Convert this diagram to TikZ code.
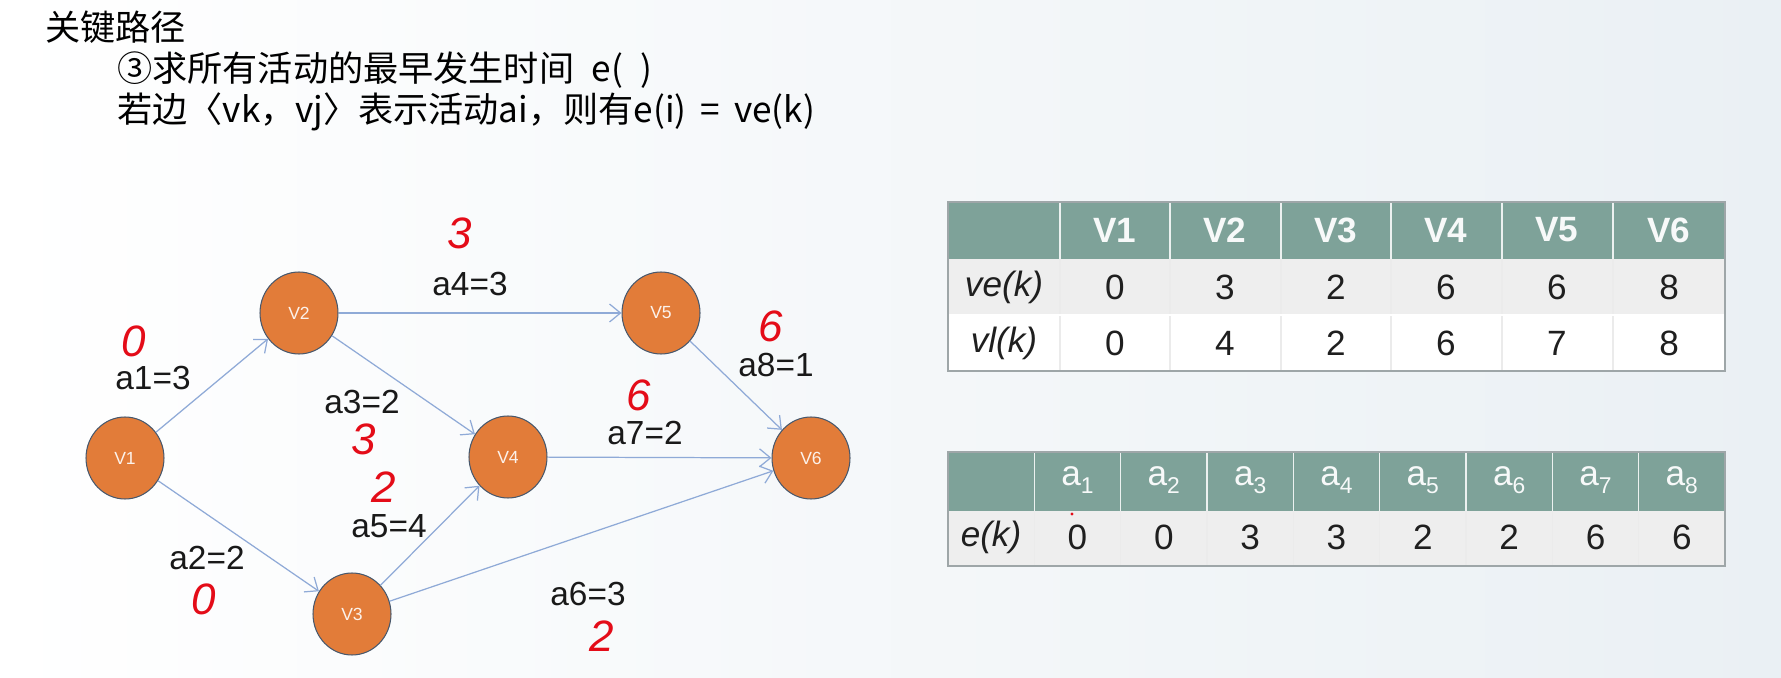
\documentclass[tikz,border=0pt]{standalone}
\usepackage{fontspec}
\setmainfont{Liberation Sans}
\newfontfamily\cjk{Noto Sans CJK SC}
\usetikzlibrary{shapes.geometric, arrows.meta, positioning}
\definecolor{NodeOrange}{RGB}{226,124,57}
\definecolor{NodeRim}{RGB}{72,88,108}
\definecolor{EdgeBlue}{RGB}{143,170,215}
\definecolor{InkRed}{RGB}{228,12,24}
\definecolor{HeadTeal}{RGB}{126,162,153}
\definecolor{RowGrey}{RGB}{238,238,238}
\definecolor{RimGrey}{RGB}{158,166,168}
\definecolor{PaneBlue}{RGB}{234,240,244}
\tikzset{
  vert/.style={ellipse, draw=NodeRim, line width=0.6pt, fill=NodeOrange, minimum width=1.56cm, minimum height=1.64cm, inner sep=0pt, text=white!90!NodeOrange, font=\fontsize{10}{10}\selectfont},
  act/.style={-{Straight Barb[length=2.2mm,width=3.6mm]}, EdgeBlue, line width=0.7pt},
  wlab/.style={font=\fontsize{19}{19}\selectfont, inner sep=0pt, text=black!90},
  ink/.style={InkRed, font=\fontsize{25}{25}\selectfont\itshape, inner sep=0pt},
  hline/.style={anchor=west, inner sep=0pt, font=\cjk\fontsize{20}{20}\selectfont},
  cell/.style={font=\fontsize{20}{20}\selectfont, inner sep=0pt, text=black!88},
  hcell/.style={font=\fontsize{20}{20}\selectfont\bfseries, inner sep=0pt, text=white!94!HeadTeal},
  acell/.style={font=\fontsize{20}{20}\selectfont, inner sep=0pt, text=white!94!HeadTeal},
}
\newcommand{\actsub}[1]{a\raisebox{-0.45ex}{\fontsize{13}{13}\selectfont #1}}

\begin{document}
\begin{tikzpicture}[x=0.02cm, y=-0.02cm]
\shade[left color=white, right color=PaneBlue] (0,0) rectangle (1781,678);
\useasboundingbox (0,0) rectangle (1781,678);

% heading lines
\node[hline] (title) at (45,27) {关键路径};
\node[hline] (stepthree) at (117,70) {③求所有活动的最早发生时间\hspace{0.5em}e(\hspace{0.5em})};
\node[hline] (rule) at (117,112) {若边〈vk，vj〉表示活动ai，则有e(i)\hspace{0.4em}=\hspace{0.4em}ve(k)};

% the activity graph
\node[vert] (v1) at (125,458) {V1};
\node[vert] (v2) at (299,313) {V2};
\node[vert] (v3) at (352,614) {V3};
\node[vert] (v4) at (508,457) {V4};
\node[vert] (v5) at (661,313) {V5};
\node[vert] (v6) at (811,458) {V6};
\draw[act] (v1) -- (v2);
\draw[act] (v1) -- (v3);
\draw[act] (v2) -- (v4);
\draw[act] (v2) -- (v5);
\draw[act] (v3) -- (v4);
\draw[act] (v3) -- (v6);
\draw[act] (v4) -- (v6);
\draw[act] (v5) -- (v6);
\node[wlab] (la1) at (153,378) {a1=3};
\node[wlab] (la2) at (207,558) {a2=2};
\node[wlab] (la3) at (362,402) {a3=2};
\node[wlab] (la4) at (470,284) {a4=3};
\node[wlab] (la5) at (389,526) {a5=4};
\node[wlab] (la6) at (588,594) {a6=3};
\node[wlab] (la7) at (645,433) {a7=2};
\node[wlab] (la8) at (776,365) {a8=1};
% handwritten start times
\node[ink] (ea1) at (134,341) {0};
\node[ink] (ea2) at (204,599) {0};
\node[ink] (ea3) at (364,439) {3};
\node[ink] (ea4) at (460,233) {3};
\node[ink] (ea5) at (384,487) {2};
\node[ink] (ea6) at (602,636) {2};
\node[ink] (ea7) at (639,395) {6};
\node[ink] (ea8) at (771,326) {6};

% vertex table
\fill[HeadTeal] (948,202) rectangle (1725,259);
\fill[RowGrey] (948,259) rectangle (1725,315);
\fill[white] (948,315) rectangle (1725,371);
\draw[white!85!HeadTeal, line width=0.6pt] (1060,202) -- (1060,259) (1170,202) -- (1170,259) (1281,202) -- (1281,259) (1391,202) -- (1391,259) (1502,202) -- (1502,259) (1613,202) -- (1613,259);
\draw[black!8, line width=0.6pt] (1060,259) -- (1060,371) (1170,259) -- (1170,371) (1281,259) -- (1281,371) (1391,259) -- (1391,371) (1502,259) -- (1502,371) (1613,259) -- (1613,371);
\draw[white, line width=1pt] (948,315) -- (1725,315);
\draw[RimGrey, line width=1.2pt] (948,202) rectangle (1725,371);
\node[hcell] (hv1) at (1115,230) {V1}; \node[hcell] (hv2) at (1225,230) {V2};
\node[hcell] (hv3) at (1336,230) {V3}; \node[hcell] (hv4) at (1446,230) {V4};
\node[hcell] (hv5) at (1557,230) {V5}; \node[hcell] (hv6) at (1669,230) {V6};
\node[cell] (vename) at (1004,287) {\itshape ve(k)};
\node[cell] (ve1) at (1115,287) {0}; \node[cell] (ve2) at (1225,287) {3};
\node[cell] (ve3) at (1336,287) {2}; \node[cell] (ve4) at (1446,287) {6};
\node[cell] (ve5) at (1557,287) {6}; \node[cell] (ve6) at (1669,287) {8};
\node[cell] (vlname) at (1004,343) {\itshape vl(k)};
\node[cell] (vl1) at (1115,343) {0}; \node[cell] (vl2) at (1225,343) {4};
\node[cell] (vl3) at (1336,343) {2}; \node[cell] (vl4) at (1446,343) {6};
\node[cell] (vl5) at (1557,343) {7}; \node[cell] (vl6) at (1669,343) {8};

% activity table
\fill[HeadTeal] (948,452) rectangle (1725,511);
\fill[RowGrey] (948,511) rectangle (1725,566);
\draw[white!85!HeadTeal, line width=0.6pt] (1034.3,452) -- (1034.3,511) (1120.7,452) -- (1120.7,511) (1207,452) -- (1207,511) (1293.3,452) -- (1293.3,511) (1379.7,452) -- (1379.7,511) (1466,452) -- (1466,511) (1552.3,452) -- (1552.3,511) (1638.7,452) -- (1638.7,511);
\draw[black!8, line width=0.6pt] (1034.3,511) -- (1034.3,566) (1120.7,511) -- (1120.7,566) (1207,511) -- (1207,566) (1293.3,511) -- (1293.3,566) (1379.7,511) -- (1379.7,566) (1466,511) -- (1466,566) (1552.3,511) -- (1552.3,566) (1638.7,511) -- (1638.7,566);
\draw[RimGrey, line width=1.2pt] (948,452) rectangle (1725,566);
\node[acell] (ha1) at (1077.5,480) {\actsub{1}}; \node[acell] (ha2) at (1163.8,480) {\actsub{2}};
\node[acell] (ha3) at (1250.2,480) {\actsub{3}}; \node[acell] (ha4) at (1336.5,480) {\actsub{4}};
\node[acell] (ha5) at (1422.8,480) {\actsub{5}}; \node[acell] (ha6) at (1509.2,480) {\actsub{6}};
\node[acell] (ha7) at (1595.5,480) {\actsub{7}}; \node[acell] (ha8) at (1681.8,480) {\actsub{8}};
\node[cell] (ename) at (991,537) {\itshape e(k)};
\node[cell] (e1) at (1077.5,537) {0}; \node[cell] (e2) at (1163.8,537) {0};
\node[cell] (e3) at (1250.2,537) {3}; \node[cell] (e4) at (1336.5,537) {3};
\node[cell] (e5) at (1422.8,537) {2}; \node[cell] (e6) at (1509.2,537) {2};
\node[cell] (e7) at (1595.5,537) {6}; \node[cell] (e8) at (1681.8,537) {6};
\fill[InkRed] (1072,514) circle (1.6);
\end{tikzpicture}
\end{document}
